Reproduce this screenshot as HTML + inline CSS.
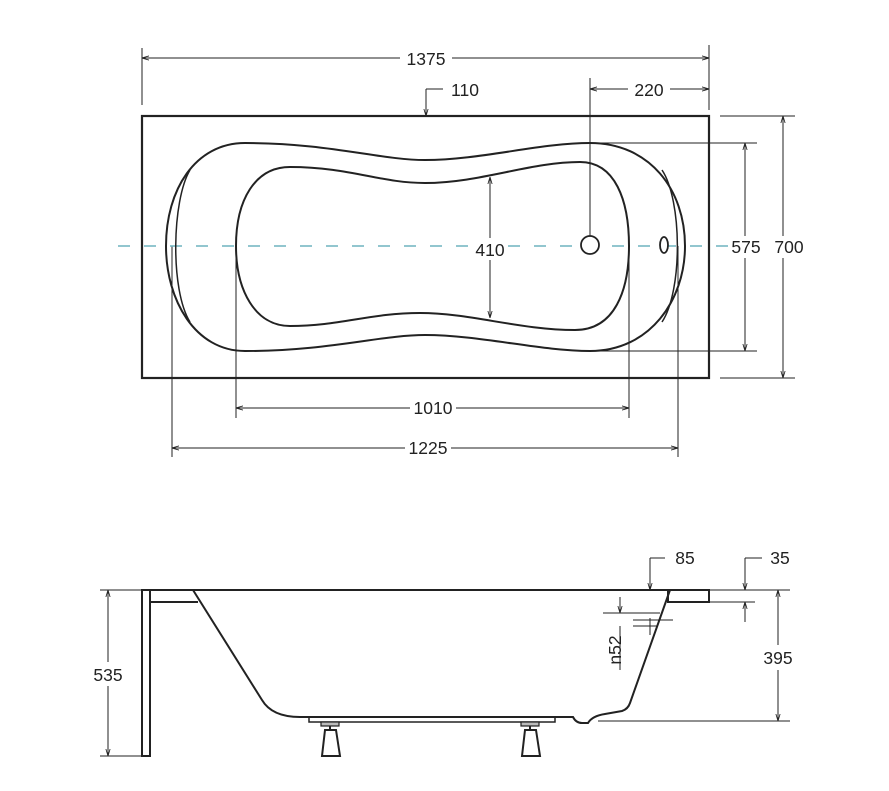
<!DOCTYPE html>
<html><head><meta charset="utf-8"><style>
html,body{margin:0;padding:0;background:#fff;}
svg{display:block;}
text{font-family:"Liberation Sans",sans-serif;font-size:17.5px;fill:#222;}
</style></head><body>
<svg width="889" height="791" viewBox="0 0 889 791" xmlns="http://www.w3.org/2000/svg">
<defs>
<marker id="a" viewBox="0 0 10 10" refX="10" refY="5" markerWidth="7" markerHeight="7" orient="auto-start-reverse"><path d="M0,2 L10,5 L0,8" fill="none" stroke="#222" stroke-width="1.2"/></marker>
</defs>
<g stroke="#222" fill="none" stroke-width="1">
<line x1="142" y1="48" x2="142" y2="105"/>
<line x1="709" y1="45" x2="709" y2="110"/>
<line x1="142" y1="58" x2="400" y2="58" marker-start="url(#a)"/>
<line x1="452" y1="58" x2="709" y2="58" marker-end="url(#a)"/>
<polyline points="426,89 426,116" marker-end="url(#a)"/>
<line x1="426" y1="89" x2="443" y2="89"/>
<line x1="590" y1="78" x2="590" y2="246"/>
<line x1="590" y1="89" x2="628" y2="89" marker-start="url(#a)"/>
<line x1="670" y1="89" x2="709" y2="89" marker-end="url(#a)"/>
<line x1="590" y1="143" x2="757" y2="143"/>
<line x1="590" y1="351" x2="757" y2="351"/>
<line x1="745" y1="143" x2="745" y2="236" marker-start="url(#a)"/>
<line x1="745" y1="258" x2="745" y2="351" marker-end="url(#a)"/>
<line x1="720" y1="116" x2="795" y2="116"/>
<line x1="720" y1="378" x2="795" y2="378"/>
<line x1="783" y1="116" x2="783" y2="236" marker-start="url(#a)"/>
<line x1="783" y1="258" x2="783" y2="378" marker-end="url(#a)"/>
<line x1="490" y1="177" x2="490" y2="238" marker-start="url(#a)"/>
<line x1="490" y1="260" x2="490" y2="318" marker-end="url(#a)"/>
<line x1="236" y1="246" x2="236" y2="418"/>
<line x1="629" y1="246" x2="629" y2="418"/>
<line x1="236" y1="408" x2="410" y2="408" marker-start="url(#a)"/>
<line x1="456" y1="408" x2="629" y2="408" marker-end="url(#a)"/>
<line x1="172" y1="246" x2="172" y2="457"/>
<line x1="678" y1="246" x2="678" y2="457"/>
<line x1="172" y1="448" x2="405" y2="448" marker-start="url(#a)"/>
<line x1="451" y1="448" x2="678" y2="448" marker-end="url(#a)"/>
</g>
<rect x="142" y="116" width="567" height="262" fill="none" stroke="#222" stroke-width="2.2"/>
<line x1="118" y1="246" x2="752" y2="246" stroke="#6fb3bf" stroke-width="1.6" stroke-dasharray="12,14"/>
<g stroke="#222" fill="none" stroke-width="2">
<path d="M245 143 C330 143 380 160 425 160 C480 160 540 143 590 143 C650 143 685 190 685 246 C685 300 650 351 590 351 C540 351 480 335 425 335 C380 335 330 351 245 351 C195 351 166 300 166 246 C166 190 195 143 245 143 Z"/>
<path d="M190 170 C172 200 170 290 190 322" stroke-width="1.5"/>
<path d="M662 170 C682 200 683 290 662 322" stroke-width="1.5"/>
<path d="M290 167 C350 167 380 183 425 183 C480 183 530 162 580 162 C615 162 629 200 629 246 C629 290 615 330 575 330 C520 330 470 313 420 313 C370 313 340 326 290 326 C255 326 236 290 236 246 C236 200 255 167 290 167 Z"/>
<circle cx="590" cy="245" r="9" fill="#fff" stroke-width="1.8"/>
<ellipse cx="664" cy="245" rx="4" ry="8" fill="#fff" stroke-width="1.8"/>
</g>
<rect x="732" y="237" width="28" height="20" fill="#fff"/>
<rect x="472" y="239" width="36" height="20" fill="#fff"/>
<text x="426" y="65" text-anchor="middle">1375</text>
<text x="465" y="96" text-anchor="middle">110</text>
<text x="649" y="96" text-anchor="middle">220</text>
<text x="746" y="253" text-anchor="middle">575</text>
<text x="789" y="253" text-anchor="middle">700</text>
<text x="490" y="256" text-anchor="middle">410</text>
<text x="433" y="414" text-anchor="middle">1010</text>
<text x="428" y="454" text-anchor="middle">1225</text>

<g stroke="#222" fill="none" stroke-width="1">
<line x1="100" y1="590" x2="146" y2="590"/>
<line x1="100" y1="756" x2="146" y2="756"/>
<line x1="108" y1="590" x2="108" y2="662" marker-start="url(#a)"/>
<line x1="108" y1="686" x2="108" y2="756" marker-end="url(#a)"/>
<line x1="710" y1="590" x2="790" y2="590"/>
<line x1="598" y1="721" x2="790" y2="721"/>
<line x1="778" y1="590" x2="778" y2="645" marker-start="url(#a)"/>
<line x1="778" y1="670" x2="778" y2="721" marker-end="url(#a)"/>
<line x1="650" y1="558" x2="650" y2="590" marker-end="url(#a)"/>
<line x1="650" y1="558" x2="665" y2="558"/>
<line x1="745" y1="558" x2="745" y2="590" marker-end="url(#a)"/>
<line x1="745" y1="558" x2="762" y2="558"/>
<line x1="710" y1="602" x2="755" y2="602"/>
<line x1="745" y1="622" x2="745" y2="602" marker-end="url(#a)"/>
<line x1="620" y1="597" x2="620" y2="613" marker-end="url(#a)"/>
<line x1="603" y1="613" x2="660" y2="613"/>
<line x1="633" y1="620" x2="673" y2="620"/>
<line x1="633" y1="626" x2="658" y2="626"/>
<line x1="620" y1="626" x2="620" y2="670"/>
<line x1="650" y1="618" x2="650" y2="635"/>
</g>
<g stroke="#222" fill="none" stroke-width="2">
<line x1="142" y1="590" x2="709" y2="590"/>
<rect x="142" y="590" width="8" height="166"/>
<line x1="150" y1="602" x2="198" y2="602"/>
<path d="M193 590 L262 700 Q272 717 300 717 L573 717 Q576 723 582 723 L588 723 Q592 716 605 714 L622 711 Q628 709 630 703 L670 590"/>
<rect x="668" y="590" width="41" height="12"/>
<rect x="309" y="717" width="246" height="5" stroke-width="1.5"/>
<rect x="321" y="722" width="18" height="4" fill="#bbb" stroke-width="1.2"/>
<rect x="521" y="722" width="18" height="4" fill="#bbb" stroke-width="1.2"/>
<line x1="330" y1="726" x2="330" y2="730"/>
<line x1="530" y1="726" x2="530" y2="730"/>
<path d="M325 730 L336 730 L340 756 L322 756 Z"/>
<path d="M525 730 L536 730 L540 756 L522 756 Z"/>
</g>
<text x="108" y="681" text-anchor="middle">535</text>
<text x="778" y="664" text-anchor="middle">395</text>
<text x="685" y="564" text-anchor="middle">85</text>
<text x="780" y="564" text-anchor="middle">35</text>
<text transform="translate(621,650) rotate(-90)" text-anchor="middle">n52</text>
</svg>
</body></html>
